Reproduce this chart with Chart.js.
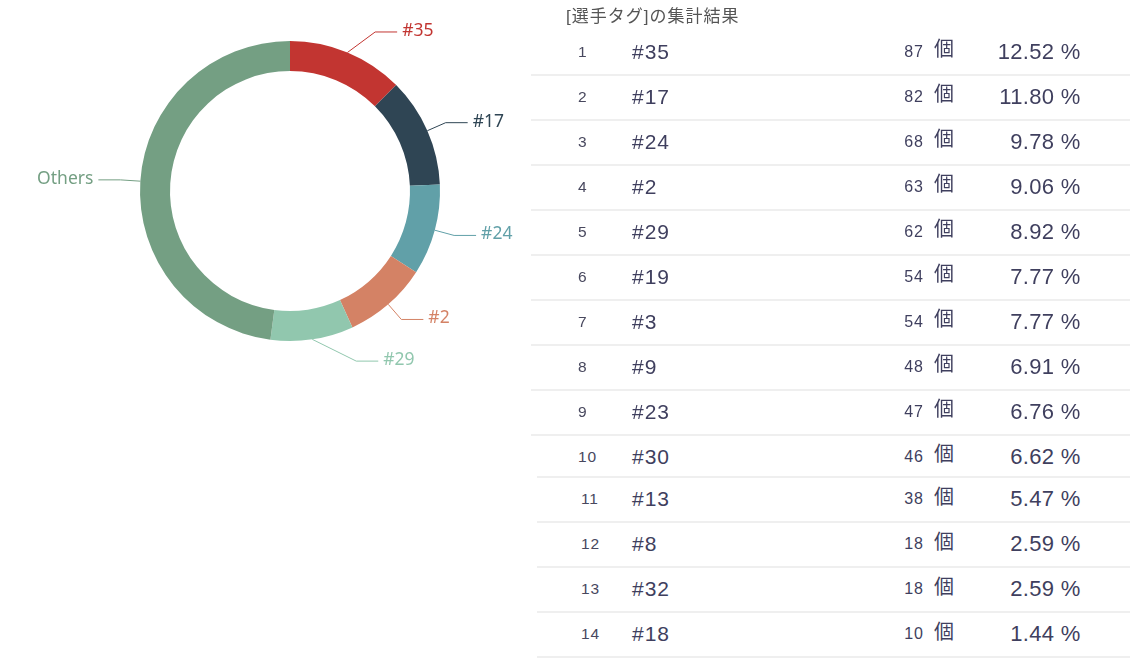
<!DOCTYPE html>
<html><head><meta charset="utf-8">
<script src="https://cdn.jsdelivr.net/npm/chart.js@4.4.0/dist/chart.umd.min.js"></script>
<style>
html,body{margin:0;padding:0;background:#fff;width:1130px;height:661px;overflow:hidden;}
#wrap{position:absolute;left:0;top:0;width:580px;height:400px;}
#title{position:absolute;left:566px;top:6px;font-size:17px;font-family:"Liberation Sans","Noto Sans CJK JP",sans-serif;color:#555;letter-spacing:1px;line-height:22px;white-space:nowrap;}
.line{position:absolute;height:2px;background:#efefef;}
.cell{position:absolute;height:30px;display:flex;align-items:center;white-space:nowrap;color:#3f3f5e;font-family:"Liberation Sans",Arial,sans-serif;}
.rank{font-size:15.5px;letter-spacing:0.8px;color:#48485e;}
.name{font-size:21px;letter-spacing:1px;}
.cnt{font-size:16px;letter-spacing:1px;justify-content:flex-end;}
.unit{font-size:20px;font-family:"Noto Sans CJK JP","Noto Sans CJK SC",sans-serif;}
.unit span{transform:translateY(-4px);display:inline-block;}
.pct{font-size:22px;letter-spacing:0.3px;justify-content:flex-end;}
</style>
</head><body>
<div id="wrap"><canvas id="c"></canvas></div>
<div id="title">[選手タグ]の集計結果</div>
<div id="table"></div>
<script>
const tags = ['#35','#17','#24','#2','#29','#19','#3','#9','#23','#30','#13','#8','#32','#18'];
const counts = [87,82,68,63,62,54,54,48,47,46,38,18,18,10];
const percents = ['12.52','11.80','9.78','9.06','8.92','7.77','7.77','6.91','6.76','6.62','5.47','2.59','2.59','1.44'];
const topN = 5;
const othersLabel = 'Others';
const unitLabel = '個';
const pieColors = ['#c23531','#2f4554','#61a0a8','#d48265','#91c7ae','#749f83'];

const pieLabels = tags.slice(0, topN).concat([othersLabel]);
const pieValues = counts.slice(0, topN).concat([counts.slice(topN).reduce((a,b)=>a+b,0)]);

// ---- table ----
const table = document.getElementById('table');
function add(cls, left, width, cy, html){
  const d = document.createElement('div');
  d.className = 'cell ' + cls;
  d.style.left = left + 'px';
  d.style.width = width + 'px';
  d.style.top = (cy - 15) + 'px';
  d.innerHTML = html;
  table.appendChild(d);
}
function line(left, y){
  const d = document.createElement('div');
  d.className = 'line';
  d.style.left = left + 'px';
  d.style.width = (1130 - left) + 'px';
  d.style.top = y + 'px';
  table.appendChild(d);
}
tags.forEach((t, i) => {
  const n = i + 1;
  const cy = n <= 10 ? 51.5 + 45 * (n - 1) : 499 + 45 * (n - 11);
  const rankLeft = n <= 10 ? 578 : 581;
  add('rank', rankLeft, 40, cy, String(n));
  add('name', 632, 120, cy, t);
  add('cnt', 860, 64, cy, String(counts[i]));
  add('unit', 934, 30, cy, '<span>' + unitLabel + '</span>');
  add('pct', 960, 120.5, cy, percents[i] + ' %');
  if (n <= 9) line(531, 74 + 45 * (n - 1));
  else line(537, 476 + 45 * (n - 10));
});

// ---- doughnut labels plugin ----
const labelPlugin = {
  id: 'sideLabels',
  afterDatasetsDraw(chart, args, opts) {
    const ctx = chart.ctx;
    const meta = chart.getDatasetMeta(0);
    const ds = chart.data.datasets[0];
    ctx.save();
    ctx.font = opts.font;
    ctx.textBaseline = 'middle';
    ctx.lineWidth = 1;
    meta.data.forEach((arc, i) => {
      const p = arc.getProps(['x','y','startAngle','endAngle','outerRadius'], true);
      const a = (p.startAngle + p.endAngle) / 2;
      const r = p.outerRadius;
      const off = opts.offsets[i] || [0,0];
      const x0 = p.x + r * Math.cos(a), y0 = p.y + r * Math.sin(a);
      const x1 = p.x + (r + opts.len1) * Math.cos(a) + off[0];
      const y1 = p.y + (r + opts.len1) * Math.sin(a) + off[1];
      const right = Math.cos(a) >= 0;
      const x2 = x1 + (right ? opts.len2 : -opts.len2);
      const col = ds.backgroundColor[i];
      ctx.strokeStyle = col;
      ctx.beginPath();
      ctx.moveTo(x0, y0);
      ctx.lineTo(x1, y1);
      ctx.lineTo(x2, y1);
      ctx.stroke();
      ctx.fillStyle = col;
      ctx.textAlign = right ? 'left' : 'right';
      ctx.fillText(chart.data.labels[i], x2 + (right ? opts.gap : -opts.gap), y1 - 1);
    });
    ctx.restore();
  }
};

new Chart(document.getElementById('c'), {
  type: 'doughnut',
  data: {
    labels: pieLabels,
    datasets: [{
      data: pieValues,
      backgroundColor: pieColors,
      borderWidth: 0,
      hoverOffset: 0
    }]
  },
  options: {
    responsive: true,
    maintainAspectRatio: false,
    animation: false,
    cutout: '80%',
    layout: { padding: { left: 140, right: 140, top: 41, bottom: 59 } },
    plugins: {
      legend: { display: false },
      tooltip: { enabled: false },
      sideLabels: {
        font: '17.5px "Noto Sans", sans-serif',
        len1: 20, len2: 22, gap: 5,
        offsets: { 0: [20, -2], 4: [41, 2] }
      }
    }
  },
  plugins: [labelPlugin]
});
</script>
</body></html>
